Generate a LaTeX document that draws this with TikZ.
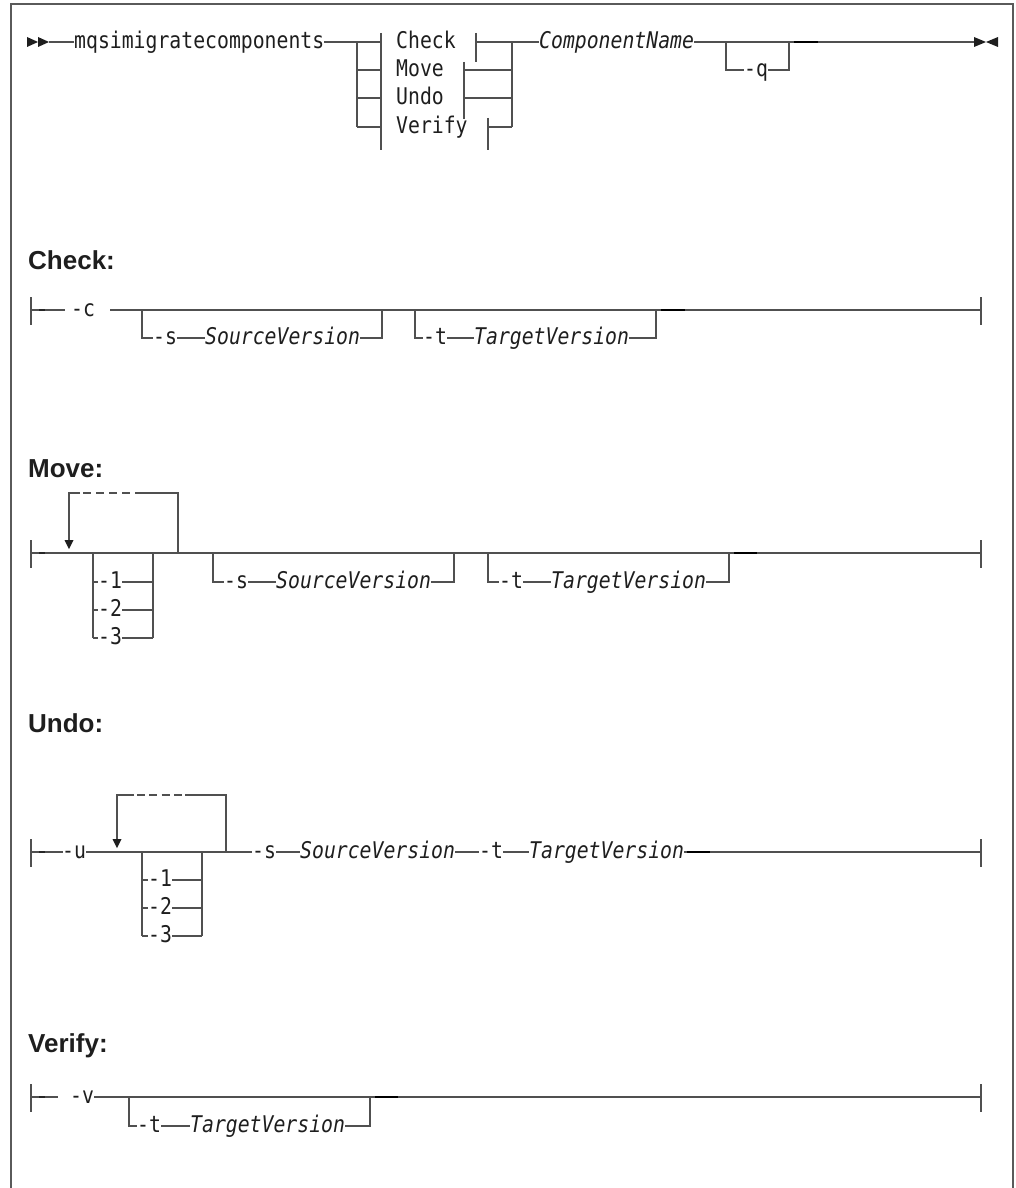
\documentclass[tikz,border=0pt]{standalone}
\usepackage{fontspec}
\newfontfamily\monofam{DejaVu Sans Mono}[FakeStretch=0.86]
\newfontfamily\headfam{Liberation Sans}
\definecolor{lin}{HTML}{505050}
\definecolor{txt}{HTML}{1E1E1E}
\definecolor{frm}{HTML}{5A5A5A}
\begin{document}
\begin{tikzpicture}[x=1pt,y=-1pt,
  ln/.style={draw=lin, line width=1.3pt},
  dk/.style={draw=black, line width=2.4pt},
  dkk/.style={draw=black!85, line width=1.8pt},
  dsh/.style={draw=lin, line width=1.3pt, dash pattern=on 8pt off 5pt},
  mt/.style={font=\monofam\fontsize{23}{26}\selectfont, text=txt, inner sep=0pt,
             text height=16pt, text depth=3.4pt, anchor=west},
  mi/.style={mt, font=\monofam\itshape\fontsize{23}{26}\selectfont},
  hd/.style={font=\headfam\bfseries\fontsize{26}{30}\selectfont, text=txt, inner sep=0pt, anchor=base west},
  tipc/.style={fill=txt, draw=none}]
\useasboundingbox (0,0) rectangle (1016,1188);
% frame
\draw[draw=frm, line width=2pt] (11,1188) -- (11,4) -- (1013,4) -- (1013,1188);

% ================= main line =================
\fill[tipc] (27,37) -- (38,42) -- (27,47) -- cycle;
\fill[tipc] (38,37) -- (49,42) -- (38,47) -- cycle;
\coordinate (m0) at (49,42);
\node[mt] (cmd) at (74,42) {mqsimigratecomponents};
\coordinate (lvA) at (357,42);
\coordinate (lvB) at (357,127);
\draw[ln] (m0) -- (cmd.west);
\draw[ln] (cmd.east) -- (lvA) -- (lvB);
\node[mt] (lchk) at (396,42) {Check};
\node[mt] (lmov) at (396,70) {Move};
\node[mt] (lund) at (396,98) {Undo};
\node[mt] (lver) at (396,127) {Verify};
\draw[ln] (lvA) -- (381,42);
\draw[ln] (357,70) -- (381,70);
\draw[ln] (357,98) -- (381,98);
\draw[ln] (357,127) -- (381,127);
\draw[ln] (381,33) -- (381,150);
\draw[ln] (476,33) -- (476,62);
\draw[ln] (464,62) -- (464,119);
\draw[ln] (488,118) -- (488,150);
\coordinate (rvA) at (512,42);
\coordinate (rvB) at (512,127);
\draw[ln] (476,42) -- (rvA);
\draw[ln] (464,70) -- (512,70);
\draw[ln] (464,98) -- (512,98);
\draw[ln] (488,127) -- (rvB);
\draw[ln] (rvA) -- (rvB);
\node[mi] (cname) at (539,42) {ComponentName};
\draw[ln] (rvA) -- (cname.west);
\coordinate (mend) at (974,42);
\draw[ln] (cname.east) -- (mend);
\node[mt] (qopt) at (744,70) {-q};
\draw[ln] (726,42) -- (726,70) -- (qopt.west);
\draw[ln] (qopt.east) -- (789,70) -- (789,42);
\draw[dk] (794,42) -- (818,42);
\fill[tipc] (974,37) -- (986,42) -- (974,47) -- cycle;
\fill[tipc] (998,37) -- (986,42) -- (998,47) -- cycle;

% ================= Check =================
\node[hd] (hchk) at (28,269) {Check:};
\coordinate (cs) at (31,310);
\coordinate (ce) at (981,310);
\draw[ln] (31,297) -- (31,325);
\draw[ln] (981,297) -- (981,325);
\draw[ln] (cs) -- (65,310);
\draw[dkk] (39,310) -- (45,310);
\node[mt] (copt) at (71,310) {-c};
\draw[ln] (110,310) -- (ce);
\node[mt] (cso) at (153,338) {-s};
\node[mi] (csv) at (205,338) {SourceVersion};
\draw[ln] (142,310) -- (142,338) -- (cso.west);
\draw[ln] (cso.east) -- (csv.west);
\draw[ln] (csv.east) -- (382,338) -- (382,310);
\node[mt] (cto) at (423,338) {-t};
\node[mi] (ctv) at (474,338) {TargetVersion};
\draw[ln] (415,310) -- (415,338) -- (cto.west);
\draw[ln] (cto.east) -- (ctv.west);
\draw[ln] (ctv.east) -- (656,338) -- (656,310);
\draw[dk] (661,310) -- (685,310);

% ================= Move =================
\node[hd] (hmov) at (28,477) {Move:};
\coordinate (ms) at (31,553);
\coordinate (me) at (981,553);
\draw[ln] (31,540) -- (31,568);
\draw[ln] (981,540) -- (981,568);
\draw[ln] (ms) -- (me);
\draw[dkk] (39,553) -- (45,553);
% repeat loop
\draw[ln] (178,553) -- (178,493) -- (135,493);
\draw[dsh] (83,493) -- (131,493);
\draw[ln] (80,493) -- (69,493) -- (69,541);
\fill[tipc] (64.5,540) -- (73.5,540) -- (69,549) -- cycle;
% choice stack
\draw[ln] (93,553) -- (93,638);
\draw[ln] (153,553) -- (153,638);
\node[mt] (m1) at (98,582) {-1};
\node[mt] (m2) at (98,610) {-2};
\node[mt] (m3) at (98,638) {-3};
\draw[ln] (93,582) -- (m1.west); \draw[ln] (m1.east) -- (153,582);
\draw[ln] (93,610) -- (m2.west); \draw[ln] (m2.east) -- (153,610);
\draw[ln] (93,638) -- (m3.west); \draw[ln] (m3.east) -- (153,638);
% -s
\node[mt] (mso) at (224,582) {-s};
\node[mi] (msv) at (276,582) {SourceVersion};
\draw[ln] (213,553) -- (213,582) -- (mso.west);
\draw[ln] (mso.east) -- (msv.west);
\draw[ln] (msv.east) -- (454,582) -- (454,553);
% -t
\node[mt] (mto) at (499,582) {-t};
\node[mi] (mtv) at (551,582) {TargetVersion};
\draw[ln] (488,553) -- (488,582) -- (mto.west);
\draw[ln] (mto.east) -- (mtv.west);
\draw[ln] (mtv.east) -- (729,582) -- (729,553);
\draw[dk] (734,553) -- (757,553);

% ================= Undo =================
\node[hd] (hund) at (28,732) {Undo:};
\coordinate (us) at (31,852);
\coordinate (ue) at (981,852);
\draw[ln] (31,839) -- (31,867);
\draw[ln] (981,839) -- (981,867);
\draw[ln] (us) -- (63,852);
\draw[dkk] (39,852) -- (45,852);
\node[mt] (uopt) at (62,852) {-u};
\node[mt] (uso) at (252,852) {-s};
\node[mi] (usv) at (300,852) {SourceVersion};
\node[mt] (uto) at (479,852) {-t};
\node[mi] (utv) at (529,852) {TargetVersion};
\draw[ln] (uopt.east) -- (uso.west);
\draw[ln] (uso.east) -- (usv.west);
\draw[ln] (usv.east) -- (uto.west);
\draw[ln] (uto.east) -- (utv.west);
\draw[ln] (utv.east) -- (ue);
\draw[dk] (687,852) -- (710,852);
% repeat loop
\draw[ln] (226,852) -- (226,795) -- (185,795);
\draw[dsh, dash pattern=on 8pt off 4.3pt] (137,795) -- (182,795);
\draw[ln] (134,795) -- (117,795) -- (117,840);
\fill[tipc] (112.5,839) -- (121.5,839) -- (117,848) -- cycle;
% choice stack
\draw[ln] (142,852) -- (142,936);
\draw[ln] (202,852) -- (202,936);
\node[mt] (u1) at (148,880) {-1};
\node[mt] (u2) at (148,908) {-2};
\node[mt] (u3) at (148,936) {-3};
\draw[ln] (142,880) -- (u1.west); \draw[ln] (u1.east) -- (202,880);
\draw[ln] (142,908) -- (u2.west); \draw[ln] (u2.east) -- (202,908);
\draw[ln] (142,936) -- (u3.west); \draw[ln] (u3.east) -- (202,936);

% ================= Verify =================
\node[hd] (hver) at (28,1052) {Verify:};
\coordinate (vs) at (31,1097);
\coordinate (ve) at (981,1097);
\draw[ln] (31,1084) -- (31,1112);
\draw[ln] (981,1084) -- (981,1112);
\draw[ln] (vs) -- (58,1097);
\draw[dkk] (39,1097) -- (45,1097);
\node[mt] (vopt) at (70,1097) {-v};
\draw[ln] (vopt.east) -- (ve);
\node[mt] (vto) at (137,1126) {-t};
\node[mi] (vtv) at (190,1126) {TargetVersion};
\draw[ln] (129,1097) -- (129,1126) -- (vto.west);
\draw[ln] (vto.east) -- (vtv.west);
\draw[ln] (vtv.east) -- (370,1126) -- (370,1097);
\draw[dk] (375,1097) -- (398,1097);
\end{tikzpicture}
\end{document}
